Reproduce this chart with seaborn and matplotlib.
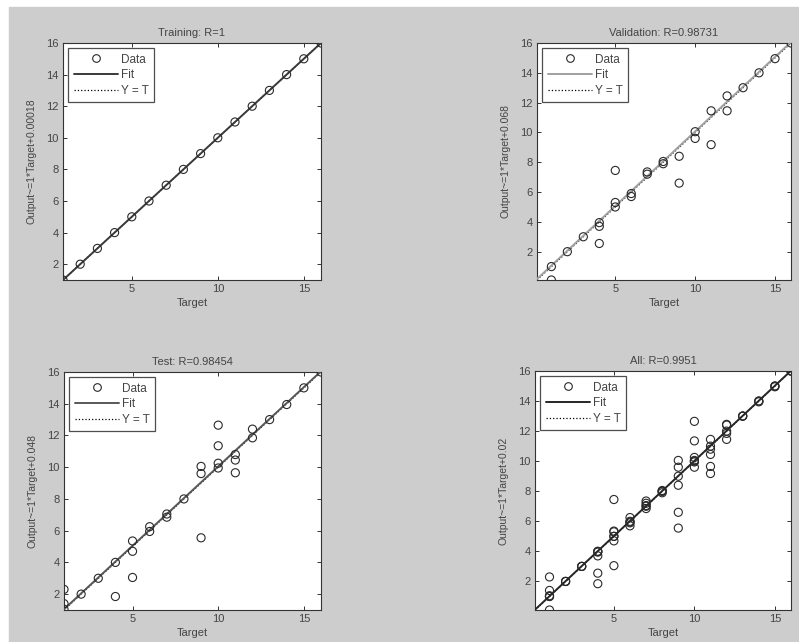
"""Regression plots (training / validation / test / all) for a fitted network."""
import numpy as np
import pandas as pd
import matplotlib
matplotlib.use('Agg')  # Non-interactive backend
import matplotlib.pyplot as plt
import seaborn as sns
from matplotlib.lines import Line2D
from matplotlib.patches import Rectangle

# ---- data ----
train_target = [1, 2, 3, 4, 5, 6, 7, 8, 9, 10, 11, 12, 13, 14, 15, 16]
train_output = [1, 2, 3, 4, 5, 6, 7, 8, 9, 10, 11, 12, 13, 14, 15, 16]

val_target = [1, 1, 2, 3, 4, 4, 4, 5, 5, 5, 6, 6, 7, 7, 8, 8, 9, 9,
              10, 10, 11, 11, 12, 12, 13, 14, 15, 16]
val_output = [1.0, 0.1, 2.0, 3.0, 3.95, 3.7, 2.55, 7.45, 5.3, 5.0, 5.9, 5.7,
              7.35, 7.2, 8.05, 7.9, 8.4, 6.6, 10.05, 9.6, 11.45, 9.18,
              12.45, 11.45, 13.0, 14.0, 14.95, 16.0]

test_target = [1, 1, 1, 2, 3, 4, 4, 5, 5, 5, 6, 6, 7, 7, 8, 9, 9, 9,
               10, 10, 10, 10, 11, 11, 11, 12, 12, 13, 14, 15, 16]
test_output = [2.3, 1.4, 1.05, 2.0, 3.0, 4.0, 1.85, 5.35, 4.7, 3.05, 6.25,
               5.95, 7.05, 6.85, 8.0, 10.05, 9.6, 5.55, 12.65, 11.35, 10.25,
               9.95, 10.8, 10.45, 9.65, 12.4, 11.85, 13.0, 13.95, 15.0, 16.0]

panel_titles = ['Training: R=1', 'Validation: R=0.98731',
                'Test: R=0.98454', 'All: R=0.9951']
fit_slopes = [1, 1, 1, 1]
fit_offsets = [0.00018, 0.068, 0.048, 0.02]
offset_text = ['0.00018', '0.068', '0.048', '0.02']
fit_colors = ['#3a3a3a', '#a0a0a0', '#585858', '#262626']
x_ticks = [5, 10, 15]
y_ticks = [2, 4, 6, 8, 10, 12, 14, 16]

sets = [
    (train_target, train_output),
    (val_target, val_output),
    (test_target, test_output),
    (train_target + val_target + test_target,
     train_output + val_output + test_output),
]

sns.set_theme(style='ticks')
plt.rcParams['font.family'] = ['Liberation Sans', 'DejaVu Sans']
text_color = '#444444'

fig = plt.figure(figsize=(7.99, 6.42), dpi=100)
fig.patch.set_facecolor('white')
fig.patches.append(Rectangle((9 / 799, 0), 1, (642 - 7) / 642,
                             transform=fig.transFigure, color='#cdcdcd',
                             zorder=-10))

positions = [
    [63 / 799, 1 - 280 / 642, 258 / 799, 237 / 642],
    [537 / 799, 1 - 280 / 642, 254 / 799, 237 / 642],
    [64 / 799, 1 - 610 / 642, 257 / 799, 238 / 642],
    [535 / 799, 1 - 610 / 642, 256 / 799, 239 / 642],
]

for i, (tgt, out) in enumerate(sets):
    ax = fig.add_axes(positions[i])
    ax.set_facecolor('white')
    df = pd.DataFrame({'Target': tgt, 'Output': out})
    lo = min(df['Target'].min(), df['Output'].min())
    hi = max(df['Target'].max(), df['Output'].max())
    xs = np.array([lo, hi])

    # y = t reference line and fitted line
    sns.lineplot(x=xs, y=xs, ax=ax, color='black', linestyle=':', lw=0.9,
                 zorder=2)
    sns.lineplot(x=xs, y=fit_slopes[i] * xs + fit_offsets[i], ax=ax,
                 color=fit_colors[i], lw=1.4, zorder=3)
    sns.scatterplot(data=df, x='Target', y='Output', ax=ax, marker='o',
                    s=34, fc='none', ec='#2a2a2a', linewidth=0.8, zorder=4)

    ax.set_xlim(lo, hi)
    ax.set_ylim(lo, hi)
    ax.set_xticks(x_ticks)
    ax.set_yticks(y_ticks)
    ax.tick_params(direction='in', top=True, right=True, length=3,
                   width=0.7, labelsize=8, colors='#333333',
                   labelcolor=text_color, pad=3)
    for sp in ax.spines.values():
        sp.set_color('#333333')
        sp.set_linewidth(0.8)

    ax.set_title(panel_titles[i], fontsize=8, color=text_color, pad=5)
    ax.set_xlabel('Target', fontsize=8, color=text_color, labelpad=3)
    ax.set_ylabel('Output~=1*Target+' + offset_text[i], fontsize=7.5,
                  color=text_color, labelpad=7)

    handles = [
        Line2D([], [], marker='o', ls='none', mfc='none', mec='#2a2a2a',
               ms=5.5, mew=0.8),
        Line2D([], [], color=fit_colors[i], lw=1.4),
        Line2D([], [], color='black', ls=':', lw=0.9),
    ]
    leg = ax.legend(handles, ['Data', 'Fit', 'Y = T'], loc='upper left',
                    fontsize=8.5, frameon=True, fancybox=False,
                    handlelength=3.8, handletextpad=0.2, borderpad=0.45,
                    labelspacing=0.3, borderaxespad=0.45)
    leg.get_frame().set_edgecolor('#222222')
    leg.get_frame().set_linewidth(0.9)
    for t in leg.get_texts():
        t.set_color(text_color)

plt.savefig('out.png', dpi=100)
plt.close()
